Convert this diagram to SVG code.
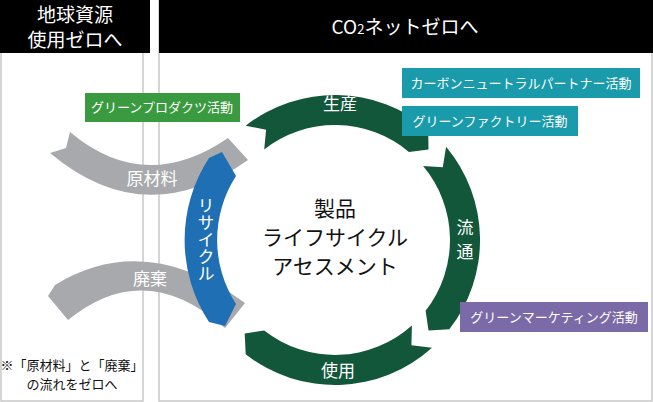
<svg xmlns="http://www.w3.org/2000/svg" width="653" height="402" viewBox="0 0 653 402">
<style>
text{font-family:"Noto Sans CJK JP","Noto Sans",sans-serif}
.hd{fill:#000}.hdt{fill:#fff;font-size:19px;text-anchor:middle}
.seg{fill:#13573a}.gray{fill:#a7a9ac}
.lw{fill:#fff;font-size:17px;text-anchor:middle}
.bt{fill:#fff;font-size:13px;text-anchor:middle}
.ct{fill:#111;font-size:21px;text-anchor:middle}
.pl{fill:none;stroke:#c8c8c8;stroke-width:1.5}
</style>
<rect width="653" height="402" fill="#fff"/>
<g id="panels">
<rect class="pl" x="1" y="1" width="142" height="400"/>
<rect class="pl" x="159" y="1" width="493" height="400"/>
</g>
<g id="head-left"><rect class="hd" x="0" y="0" width="150" height="53"/><text class="hdt" x="75" y="22">地球資源</text><text class="hdt" x="75" y="47">使用ゼロへ</text></g>
<g id="head-right"><rect class="hd" x="159" y="0" width="494" height="53"/><text class="hdt" x="405" y="34">CO<tspan font-size="13">2</tspan>ネットゼロへ</text></g>
<g id="connectors">
<path id="raw" class="gray" d="M70,132 Q145,195 228,138 L248,160 Q145,233 50,153 L66,148 Z"/>
<path id="waste" class="gray" d="M55,285 Q145,230 245,303 L225,328 Q145,257 68,320 L48,296 Z"/>
</g>
<g id="label-raw"><text class="lw" x="152" y="185">原材料</text></g>
<g id="label-waste"><text class="lw" x="150" y="285">廃棄</text></g>
<g id="recycle"><path fill="#1f6fb5" d="M209,158 L222,152 L236,176 A118,118 0 0 0 236,304 L225,326 L209,322 A150,150 0 0 1 209,158 Z"/><text class="lw" transform="translate(206,240)" style="writing-mode:vertical-rl" x="0" y="0">リサイクル</text></g>
<g id="production"><path class="seg" d="M245.7,125.7 A145,145 0 0 1 428.2,128.9 L428.5,149.6 L408.9,151.9 A115,115 0 0 0 264.2,149.4 L266.1,129.8 Z"/><text class="lw" x="340" y="110">生産</text></g>
<g id="distribution"><path class="seg" d="M446.1,146.8 A145,145 0 0 1 449.3,329.3 L428.5,330.4 L425.6,310.8 A115,115 0 0 0 423.1,166.1 L442.8,167.3 Z"/><text class="lw" x="465" y="234">流</text><text class="lw" x="465" y="258">通</text></g>
<g id="use"><path class="seg" d="M432,347.7 A145,145 0 0 1 245.7,354.3 L244.7,333.5 L264.2,330.6 A115,115 0 0 0 411.9,325.4 L411.4,345.2 Z"/><text class="lw" x="338" y="377">使用</text></g>
<g id="center"><text class="ct" x="335" y="216">製品</text><text class="ct" x="335" y="245">ライフサイクル</text><text class="ct" x="335" y="274">アセスメント</text></g>
<g id="green-product"><rect fill="#3a9a3f" x="85" y="93" width="155" height="29"/><text class="bt" x="162" y="112">グリーンプロダクツ活動</text></g>
<g id="carbon"><rect fill="#1a9bab" x="402" y="68" width="238" height="30"/><text class="bt" x="521" y="88">カーボンニュートラルパートナー活動</text></g>
<g id="factory"><rect fill="#1a9bab" x="402" y="106" width="176" height="30"/><text class="bt" x="490" y="126">グリーンファクトリー活動</text></g>
<g id="marketing"><rect fill="#7b6aa8" x="460" y="302" width="188" height="30"/><text class="bt" x="554" y="322">グリーンマーケティング活動</text></g>
<g id="note"><text x="72" y="370" font-size="13" text-anchor="middle" fill="#111">※「原材料」と「廃棄」</text><text x="72" y="389" font-size="13" text-anchor="middle" fill="#111">の流れをゼロへ</text></g>
</svg>
